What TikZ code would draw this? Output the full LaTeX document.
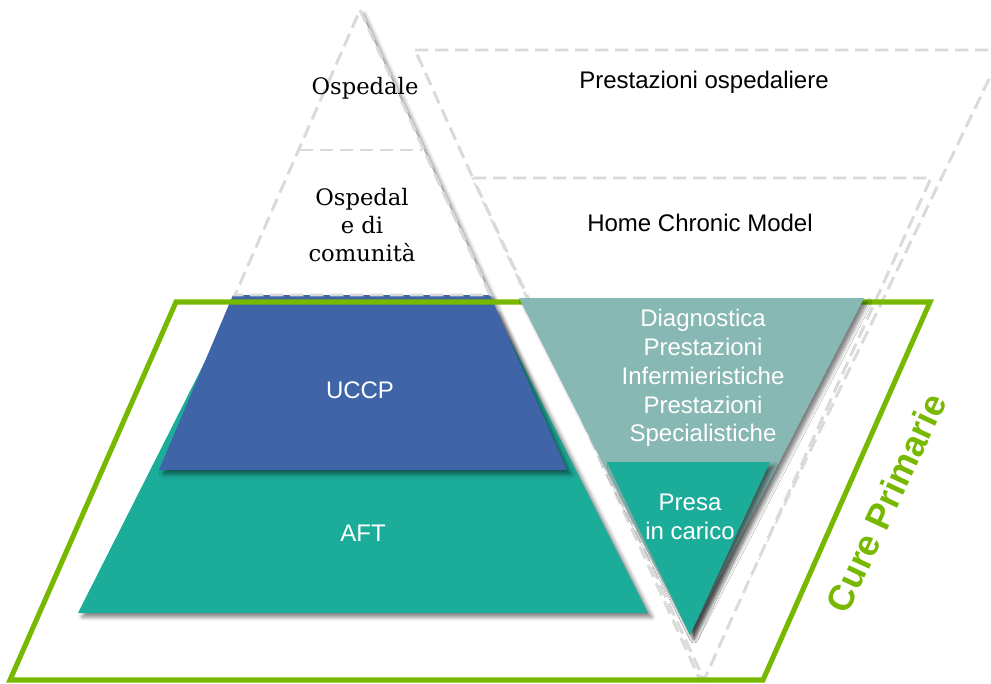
\documentclass[tikz,border=0pt]{standalone}
\usepackage{fontspec}
\setmainfont{Liberation Sans}
\newfontfamily\slabfont{DejaVu Serif}
\usetikzlibrary{shadows.blur}
\definecolor{cpgreen}{RGB}{118,185,0}
\definecolor{uccpblue}{RGB}{63,101,168}
\definecolor{aftteal}{RGB}{27,173,154}
\definecolor{paleteal}{RGB}{136,184,179}
\definecolor{dashgrey}{RGB}{218,218,218}
\tikzset{
  dashline/.style={draw=dashgrey, line width=2.2pt, dash pattern=on 10pt off 5pt},
  shade/.style={blur shadow={shadow xshift=3pt, shadow yshift=-3pt, shadow blur radius=3pt, shadow opacity=50}},
  lbl/.style={font=\fontsize{18}{21.6}\selectfont, align=center},
  slab/.style={font=\slabfont\fontsize{17}{21}\selectfont, align=center},
}
\begin{document}
\begin{tikzpicture}[x=0.75pt,y=-0.75pt]
\useasboundingbox (0,0) rectangle (991,684);
% inverted levels on the right
\filldraw[fill=white,dashline] (415,50)--(1003,50)--(700,680)--cycle;
\filldraw[fill=white,dashline] (473,178)--(931,178)--(704,680)--cycle;
% hospital pyramid
\fill[white,shade] (360,10)--(490,295)--(235,295)--cycle;
\draw[dashline] (300,150)--(422,150);
% primary care pyramid
\fill[aftteal,shade] (231,310)--(495,310)--(648,613)--(78,613)--cycle;
\fill[uccpblue,shade] (233,295)--(490,295)--(567,470)--(159,470)--cycle;
\draw[dashline] (360,10)--(490,295)--(235,295)--cycle;
% cure primarie frame
\draw[cpgreen,line width=3.8pt,line join=miter] (176,302)--(930,302)--(763,680)--(10,680)--cycle;
% services triangle
\fill[paleteal,shade] (519,298)--(864,298)--(690,635)--cycle;
\fill[aftteal,shade] (607,462)--(770,462)--(690,635)--cycle;
% labels
\node[slab] (osp) at (365,88) {Ospedale};
\node[slab] (ospcom) at (362,225) {Ospedal\\e di\\comunità};
\node[lbl] (prestosp) at (704,82) {Prestazioni ospedaliere};
\node[lbl] (hcm) at (700,223) {Home Chronic Model};
\node[lbl,white] (uccp) at (360,390) {UCCP};
\node[lbl,white] (aft) at (363,533) {AFT};
\node[lbl,white] (diagn) at (703,378) {Diagnostica\\Prestazioni\\Infermieristiche\\Prestazioni\\Specialistiche};
\node[lbl,white] (presa) at (690,517) {Presa\\in carico};
\node[cpgreen,font=\fontsize{27}{32}\bfseries,rotate=65] (cure) at (886,503) {Cure Primarie};
\end{tikzpicture}
\end{document}
